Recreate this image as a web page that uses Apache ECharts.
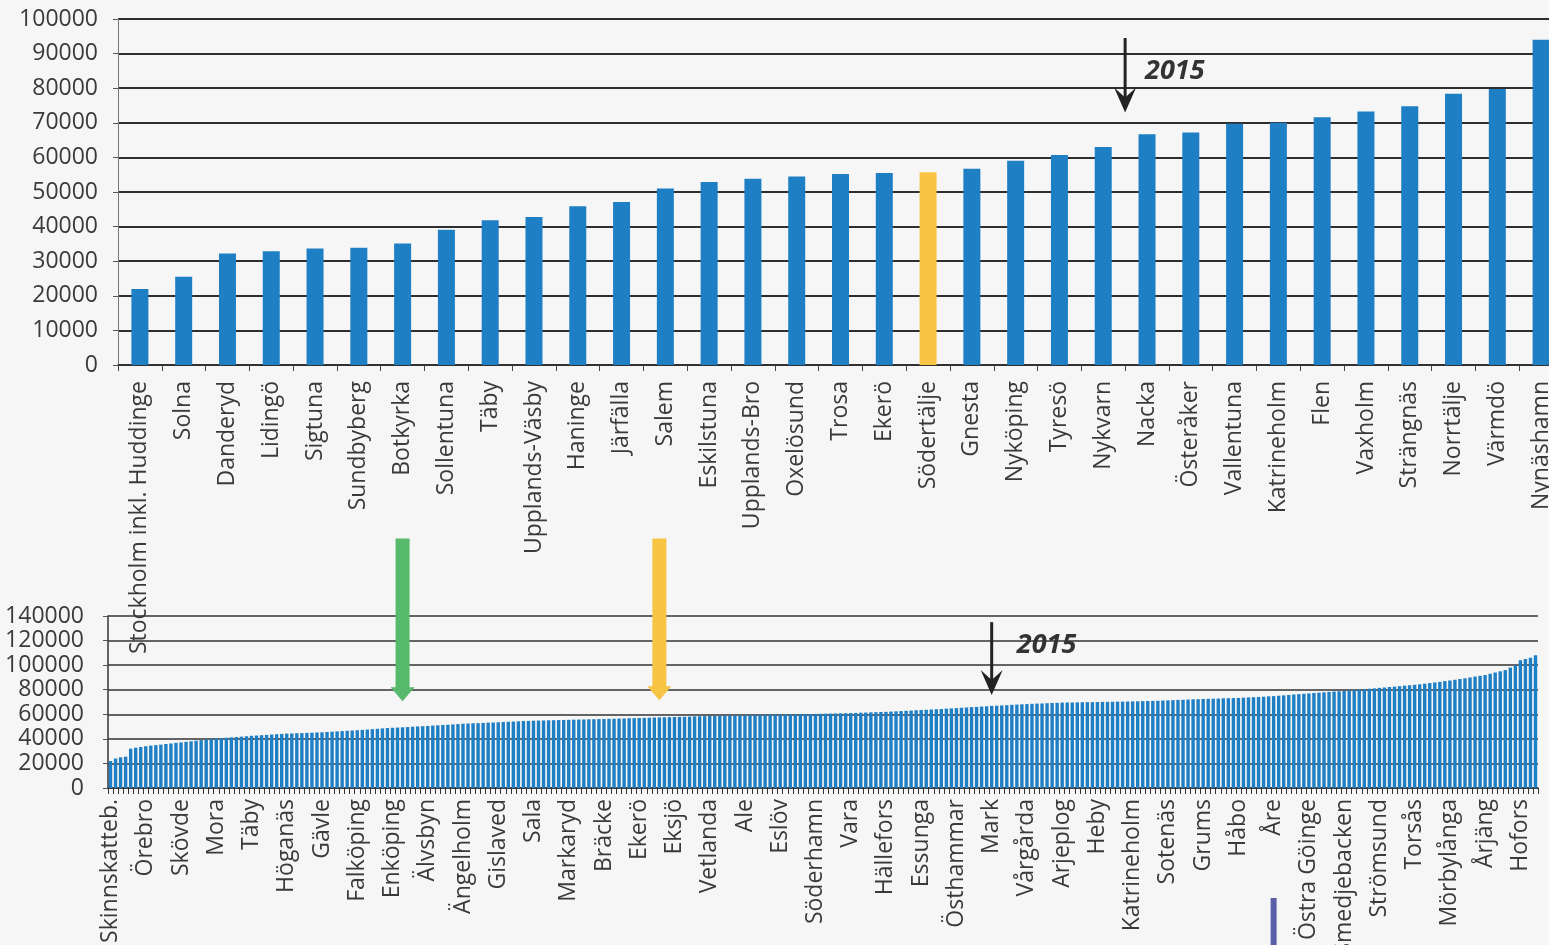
<!DOCTYPE html>
<html><head><meta charset="utf-8">
<script src="https://cdn.jsdelivr.net/npm/echarts/dist/echarts.min.js"></script>
<style>html,body{margin:0;padding:0;background:#f6f6f6}#c{width:1549px;height:945px}</style>
</head><body><div id="c"></div>
<script>
// ---------- top chart data ----------
const topCategories = ['Stockholm inkl. Huddinge','Solna','Danderyd','Lidingö','Sigtuna','Sundbyberg','Botkyrka','Sollentuna','Täby','Upplands-Väsby','Haninge','Järfälla','Salem','Eskilstuna','Upplands-Bro','Oxelösund','Trosa','Ekerö','Södertälje','Gnesta','Nyköping','Tyresö','Nykvarn','Nacka','Österåker','Vallentuna','Katrineholm','Flen','Vaxholm','Strängnäs','Norrtälje','Värmdö','Nynäshamn'];
const topValues = [22000,25500,32200,32900,33700,33900,35100,39100,41800,42800,45900,47100,51000,52900,53800,54500,55200,55500,55700,56700,59000,60700,63000,66700,67200,69700,70000,71600,73300,74800,78400,79800,94000];
const topHighlight = 'Södertälje';
const topYTicks = {min: 0, max: 100000, interval: 10000};

// ---------- bottom chart data ----------
const bottomLabels = ['Skinnskatteb.','Örebro','Skövde','Mora','Täby','Höganäs','Gävle','Falköping','Enköping','Älvsbyn','Ängelholm','Gislaved','Sala','Markaryd','Bräcke','Ekerö','Eksjö','Vetlanda','Ale','Eslöv','Söderhamn','Vara','Hällefors','Essunga','Östhammar','Mark','Vårgårda','Arjeplog','Heby','Katrineholm','Sotenäs','Grums','Håbo','Åre','Östra Göinge','Smedjebacken','Strömsund','Torsås','Mörbylånga','Årjäng','Hofors'];
const bottomLabelStep = 7;
const bottomValues = [
22000,24000,25000,25500,32000,32800,33400,
34000,34500,34900,35300,35800,36200,36700,
37100,37600,38000,38500,39000,39400,39900,
40300,40600,40900,41200,41500,41800,42100,
42500,42700,43000,43200,43500,43800,44000,
44300,44400,44600,44700,44900,45000,45200,
45300,45600,45800,46100,46300,46600,46800,
47000,47300,47600,47900,48200,48500,48800,
49000,49200,49400,49600,49900,50100,50300,
50500,50800,51000,51300,51500,51800,52000,
52300,52500,52700,52800,53000,53200,53300,
53500,53700,53900,54100,54300,54500,54600,
54800,54900,55000,55100,55200,55300,55400,
55500,55600,55700,55800,55900,56000,56100,
56200,56300,56400,56500,56600,56800,56900,
57000,57100,57200,57400,57500,57600,57700,
57800,57900,58000,58100,58300,58400,58500,
58600,58700,58800,58900,59000,59000,59100,
59200,59300,59400,59500,59500,59600,59700,
59800,59900,59900,60000,60100,60200,60200,
60300,60400,60500,60600,60700,60800,60900,
61000,61100,61300,61400,61600,61700,61900,
62000,62200,62400,62600,62800,63000,63300,
63500,63700,63900,64100,64300,64600,64800,
65000,65300,65500,65800,66000,66300,66500,
66800,67000,67200,67400,67700,67900,68100,
68300,68500,68700,68800,69000,69200,69300,
69500,69600,69600,69700,69800,69900,69900,
70000,70100,70100,70200,70300,70300,70400,
70500,70600,70700,70800,70900,71000,71200,
71300,71500,71700,71800,72000,72200,72300,
72500,72600,72700,72800,73000,73100,73200,
73300,73500,73700,73900,74100,74300,74600,
74800,75100,75400,75700,76100,76400,76700,
77000,77300,77600,77900,78200,78500,78700,
79000,79300,79700,80000,80400,80800,81100,
81500,81800,82200,82500,82900,83300,83600,
84000,84400,84900,85400,85900,86400,87000,
87500,88100,88700,89300,90000,90700,91300,
92000,93000,94000,95000,96000,98000,100000,
104000,105000,106000,108000];
const bottomYTicks = {min: 0, max: 140000, interval: 20000};
const annotationText = '2015';

// ---------- build ----------
const bottomCategories = bottomValues.map((v, i) => i % bottomLabelStep === 0 ? bottomLabels[i / bottomLabelStep] : '');
const BLUE = '#1f7fc5', YELLOW = '#f8c444', GREEN = '#57b96c';
const FONT = '"Open Sans", "Liberation Sans", sans-serif';
const plain = v => String(v);

const chart = echarts.init(document.getElementById('c'), null, {renderer: 'canvas'});
chart.setOption({
  backgroundColor: '#f6f6f6',
  animation: false,
  grid: [
    {left: 118, right: -14, top: 19, bottom: 580, outerBoundsMode: 'none', containLabel: false},
    {left: 108, right: 11, top: 616, bottom: 157, outerBoundsMode: 'none', containLabel: false}
  ],
  xAxis: [
    {type: 'category', gridIndex: 0, data: topCategories,
     axisLine: {lineStyle: {color: '#333', width: 1.5}},
     axisTick: {show: true, length: 6, lineStyle: {color: '#444'}},
     axisLabel: {interval: 0, rotate: 90, margin: 16, fontSize: 23, fontFamily: FONT, color: '#3a3a3a'}},
    {type: 'category', gridIndex: 1, data: bottomCategories,
     axisLine: {lineStyle: {color: '#333', width: 1.5}},
     axisTick: {show: true, interval: 0, length: 6, lineStyle: {color: '#333'}},
     axisLabel: {interval: bottomLabelStep - 1, rotate: 90, margin: 11, fontSize: 23, fontFamily: FONT, color: '#3a3a3a'}}
  ],
  yAxis: [
    {type: 'value', gridIndex: 0, min: topYTicks.min, max: topYTicks.max, interval: topYTicks.interval,
     axisLine: {show: true, lineStyle: {color: '#777', width: 1}},
     axisTick: {show: true, length: 5, lineStyle: {color: '#555'}},
     splitLine: {lineStyle: {color: '#2e2e2e', width: 2}},
     axisLabel: {margin: 20, fontSize: 23, fontFamily: FONT, color: '#3a3a3a', formatter: plain}},
    {type: 'value', gridIndex: 1, min: bottomYTicks.min, max: bottomYTicks.max, interval: bottomYTicks.interval,
     axisLine: {show: true, lineStyle: {color: '#333', width: 1.5}},
     axisTick: {show: true, length: 5, lineStyle: {color: '#555'}},
     splitLine: {lineStyle: {color: '#333', width: 1.5}},
     axisLabel: {margin: 24, fontSize: 23, fontFamily: FONT, color: '#3a3a3a', formatter: plain}}
  ],
  series: [
    {type: 'bar', xAxisIndex: 0, yAxisIndex: 0, barWidth: 17,
     data: topValues.map((v, i) => topCategories[i] === topHighlight ? {value: v, itemStyle: {color: YELLOW}} : v),
     itemStyle: {color: BLUE}},
    {type: 'bar', xAxisIndex: 1, yAxisIndex: 1, barWidth: 3.4, data: bottomValues, itemStyle: {color: BLUE}}
  ]
});

function px(gridIndex, idx, val) { return chart.convertToPixel({gridIndex: gridIndex}, [idx, val]); }
function fatArrow(x, top, tip, sw, hw, hl, color) {
  return {type: 'polygon', z: 100, shape: {points: [
    [x - sw / 2, top], [x + sw / 2, top], [x + sw / 2, tip - hl], [x + hw / 2, tip - hl],
    [x, tip], [x - hw / 2, tip - hl], [x - sw / 2, tip - hl]]}, style: {fill: color}};
}
function thinArrow(x, top, tip) {
  return [
    {type: 'line', z: 100, shape: {x1: x, y1: top, x2: x, y2: tip - 8}, style: {stroke: '#222', lineWidth: 3}},
    {type: 'polygon', z: 100, shape: {points: [[x, tip], [x - 11, tip - 25], [x, tip - 15], [x + 11, tip - 25]]}, style: {fill: '#222'}}
  ];
}
function label2015(x, y) {
  return {type: 'text', z: 101, style: {text: annotationText, x: x, y: y, font: 'italic bold 27px ' + FONT,
    fill: '#333', textVerticalAlign: 'middle', textShadowColor: 'rgba(0,0,0,0.35)', textShadowOffsetX: 2, textShadowOffsetY: 2}};
}

// top annotation: between Nykvarn (22) and Nacka (23)
const tA = px(0, 22, 94500), tB = px(0, 23, 73000);
const tx = (tA[0] + tB[0]) / 2;
// bottom annotations
const gTop = px(1, 58, 203000), gTip = px(1, 58, 70700);
const oTop = px(1, 109, 203000), oTip = px(1, 109, 71500);
const bTop = px(1, 175, 135000), bTip = px(1, 175, 75600);
const bTxt = px(1, 180, 116000);
const vLine = px(1, 230, 0);

const graphics = [
  ...thinArrow(tx, tA[1], tB[1]),
  label2015(tx + 20, px(0, 23, 85000)[1]),
  fatArrow(gTop[0], gTop[1], gTip[1], 14, 24, 14, GREEN),
  fatArrow(oTop[0], oTop[1], oTip[1], 14, 24, 14, YELLOW),
  ...thinArrow(bTop[0], bTop[1], bTip[1]),
  label2015(bTxt[0], bTxt[1]),
  {type: 'rect', z: 100, shape: {x: vLine[0] + 2, y: 898, width: 6, height: 60}, style: {fill: '#5a5fa8'}}
];
chart.setOption({graphic: graphics});
</script></body></html>
